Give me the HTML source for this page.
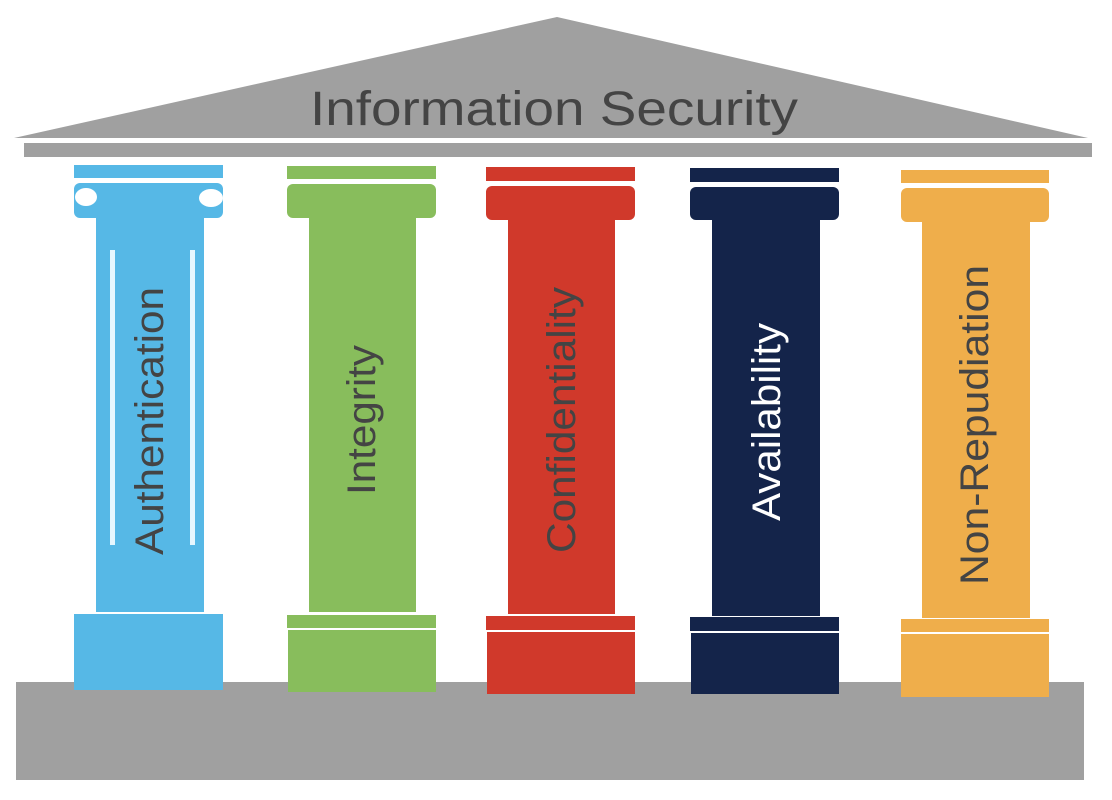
<!DOCTYPE html>
<html><head><meta charset="utf-8"><style>html,body{margin:0;padding:0;background:#fff}svg{display:block}</style></head>
<body>
<svg width="1112" height="800" viewBox="0 0 1112 800" xmlns="http://www.w3.org/2000/svg" font-family="Liberation Sans, sans-serif">
<polygon points="14,138 557,17 1088,138" fill="#a0a0a0"/>
<rect x="24" y="143" width="1068" height="14" fill="#a0a0a0"/>
<text x="554" y="125" font-size="48" fill="#444" text-anchor="middle" textLength="488" lengthAdjust="spacingAndGlyphs">Information Security</text>
<rect x="16" y="682" width="1068" height="98" fill="#a0a0a0"/>

<!-- Pillar 1 -->
<g fill="#56b8e6">
<rect x="74" y="165" width="149" height="13"/>
<rect x="74" y="183" width="149" height="35" rx="6"/>
<rect x="96" y="183" width="108" height="429"/>
<rect x="74" y="614" width="149" height="76"/>
</g>
<ellipse cx="86" cy="197" rx="11" ry="9" fill="#fff"/>
<ellipse cx="211" cy="198" rx="12" ry="9" fill="#fff"/>
<rect x="110" y="250" width="5" height="295" fill="#e6f7ff"/>
<rect x="190" y="250" width="5" height="295" fill="#e6f7ff"/>
<text transform="translate(150,421) rotate(-90)" font-size="40" fill="#444" text-anchor="middle" dominant-baseline="central" textLength="268" lengthAdjust="spacingAndGlyphs">Authentication</text>

<!-- Pillar 2 -->
<g fill="#88bd5c">
<rect x="287" y="166" width="149" height="13"/>
<rect x="287" y="184" width="149" height="34" rx="6"/>
<rect x="309" y="184" width="107" height="428"/>
<rect x="287" y="615" width="149" height="13"/>
<rect x="288" y="630" width="148" height="62"/>
</g>
<text transform="translate(362,420) rotate(-90)" font-size="40" fill="#444" text-anchor="middle" dominant-baseline="central" textLength="150" lengthAdjust="spacingAndGlyphs">Integrity</text>

<!-- Pillar 3 -->
<g fill="#d0392b">
<rect x="486" y="167" width="149" height="14"/>
<rect x="486" y="186" width="149" height="34" rx="6"/>
<rect x="508" y="186" width="107" height="428"/>
<rect x="486" y="616" width="149" height="14"/>
<rect x="487" y="632" width="148" height="62"/>
</g>
<text transform="translate(562,420) rotate(-90)" font-size="40" fill="#444" text-anchor="middle" dominant-baseline="central" textLength="266" lengthAdjust="spacingAndGlyphs">Confidentiality</text>

<!-- Pillar 4 -->
<g fill="#14244a">
<rect x="690" y="168" width="149" height="14"/>
<rect x="690" y="187" width="149" height="33" rx="6"/>
<rect x="712" y="187" width="108" height="429"/>
<rect x="690" y="617" width="149" height="14"/>
<rect x="691" y="633" width="148" height="61"/>
</g>
<text transform="translate(767,422) rotate(-90)" font-size="40" fill="#fff" text-anchor="middle" dominant-baseline="central" textLength="198" lengthAdjust="spacingAndGlyphs">Availability</text>

<!-- Pillar 5 -->
<g fill="#efae4b">
<rect x="901" y="170" width="148" height="13"/>
<rect x="901" y="188" width="148" height="34" rx="6"/>
<rect x="922" y="188" width="108" height="430"/>
<rect x="901" y="619" width="148" height="13"/>
<rect x="901" y="634" width="148" height="63"/>
</g>
<text transform="translate(975,425) rotate(-90)" font-size="40" fill="#444" text-anchor="middle" dominant-baseline="central" textLength="320" lengthAdjust="spacingAndGlyphs">Non-Repudiation</text>
</svg>
</body></html>
